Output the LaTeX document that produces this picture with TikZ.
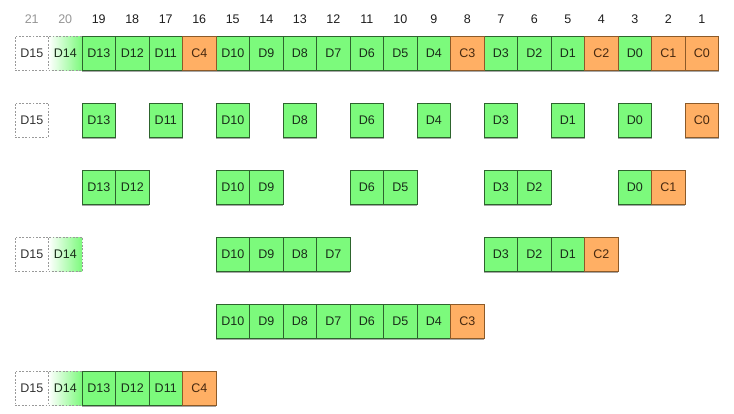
\documentclass[tikz,border=0pt]{standalone}
\usepackage{fontspec}
\setmainfont{Liberation Sans}
\usetikzlibrary{shadows}
\definecolor{dgreen}{RGB}{124,250,124}
\definecolor{dborder}{RGB}{45,100,45}
\definecolor{dtext}{RGB}{25,45,25}
\definecolor{corange}{RGB}{255,175,100}
\definecolor{cborder}{RGB}{140,90,40}
\definecolor{ctext}{RGB}{70,40,15}
\definecolor{etext}{RGB}{50,50,50}
\definecolor{numtext}{RGB}{30,30,30}
\definecolor{numgray}{RGB}{150,150,150}
\tikzset{
  cellbase/.style={minimum width=33.5pt, minimum height=34pt, inner sep=0pt, outer sep=0pt,
    font=\fontsize{12.5}{14}\selectfont, line width=0.7pt},
  solidshadow/.style={drop shadow={shadow xshift=0pt, shadow yshift=-1.6pt, fill=black, opacity=0.35}},
  dcell/.style={cellbase, solidshadow, fill=dgreen, draw=dborder, text=dtext},
  ccell/.style={cellbase, solidshadow, fill=corange, draw=cborder, text=ctext},
  ecell/.style={cellbase, draw=gray!80, dash pattern=on 1.8pt off 1.6pt, text=etext},
  fcell/.style={cellbase, left color=white, right color=dgreen, draw=gray!80, dash pattern=on 1.8pt off 1.6pt, text=dtext},
  numlab/.style={font=\fontsize{12.5}{14}\selectfont, text=numtext, inner sep=0pt},
  numlabg/.style={numlab, text=numgray}
}
\newcommand\dcells[2]{\foreach \n/\t in {#2} {\node[dcell] (r#1c\n) at ({31.75+(21-\n)*33.5},{53+(#1-1)*67}) {\t};}}
\newcommand\ccells[2]{\foreach \n/\t in {#2} {\node[ccell] (r#1c\n) at ({31.75+(21-\n)*33.5},{53+(#1-1)*67}) {\t};}}
\newcommand\ecells[2]{\foreach \n/\t in {#2} {\node[ecell] (r#1c\n) at ({31.75+(21-\n)*33.5},{53+(#1-1)*67}) {\t};}}
\newcommand\fcells[2]{\foreach \n/\t in {#2} {\node[fcell] (r#1c\n) at ({31.75+(21-\n)*33.5},{53+(#1-1)*67}) {\t};}}
\begin{document}
\begin{tikzpicture}[x=1pt,y=-1pt]
\useasboundingbox[fill=white] (0,0) rectangle (734,413);
% column numbers
\foreach \n in {21,20} {\node[numlabg] (n\n) at ({31.75+(21-\n)*33.5},19.5) {\n};}
\foreach \n in {19,...,1} {\node[numlab] (n\n) at ({31.75+(21-\n)*33.5},19.5) {\n};}
% row 1
\ecells{1}{21/D15}
\fcells{1}{20/D14}
\dcells{1}{19/D13,18/D12,17/D11,15/D10,14/D9,13/D8,12/D7,11/D6,10/D5,9/D4,7/D3,6/D2,5/D1,3/D0}
\ccells{1}{16/C4,8/C3,4/C2,2/C1,1/C0}
% row 2
\ecells{2}{21/D15}
\dcells{2}{19/D13,17/D11,15/D10,13/D8,11/D6,9/D4,7/D3,5/D1,3/D0}
\ccells{2}{1/C0}
% row 3
\dcells{3}{19/D13,18/D12,15/D10,14/D9,11/D6,10/D5,7/D3,6/D2,3/D0}
\ccells{3}{2/C1}
% row 4
\ecells{4}{21/D15}
\fcells{4}{20/D14}
\dcells{4}{15/D10,14/D9,13/D8,12/D7,7/D3,6/D2,5/D1}
\ccells{4}{4/C2}
% row 5
\dcells{5}{15/D10,14/D9,13/D8,12/D7,11/D6,10/D5,9/D4}
\ccells{5}{8/C3}
% row 6
\ecells{6}{21/D15}
\fcells{6}{20/D14}
\dcells{6}{19/D13,18/D12,17/D11}
\ccells{6}{16/C4}
\end{tikzpicture}
\end{document}
